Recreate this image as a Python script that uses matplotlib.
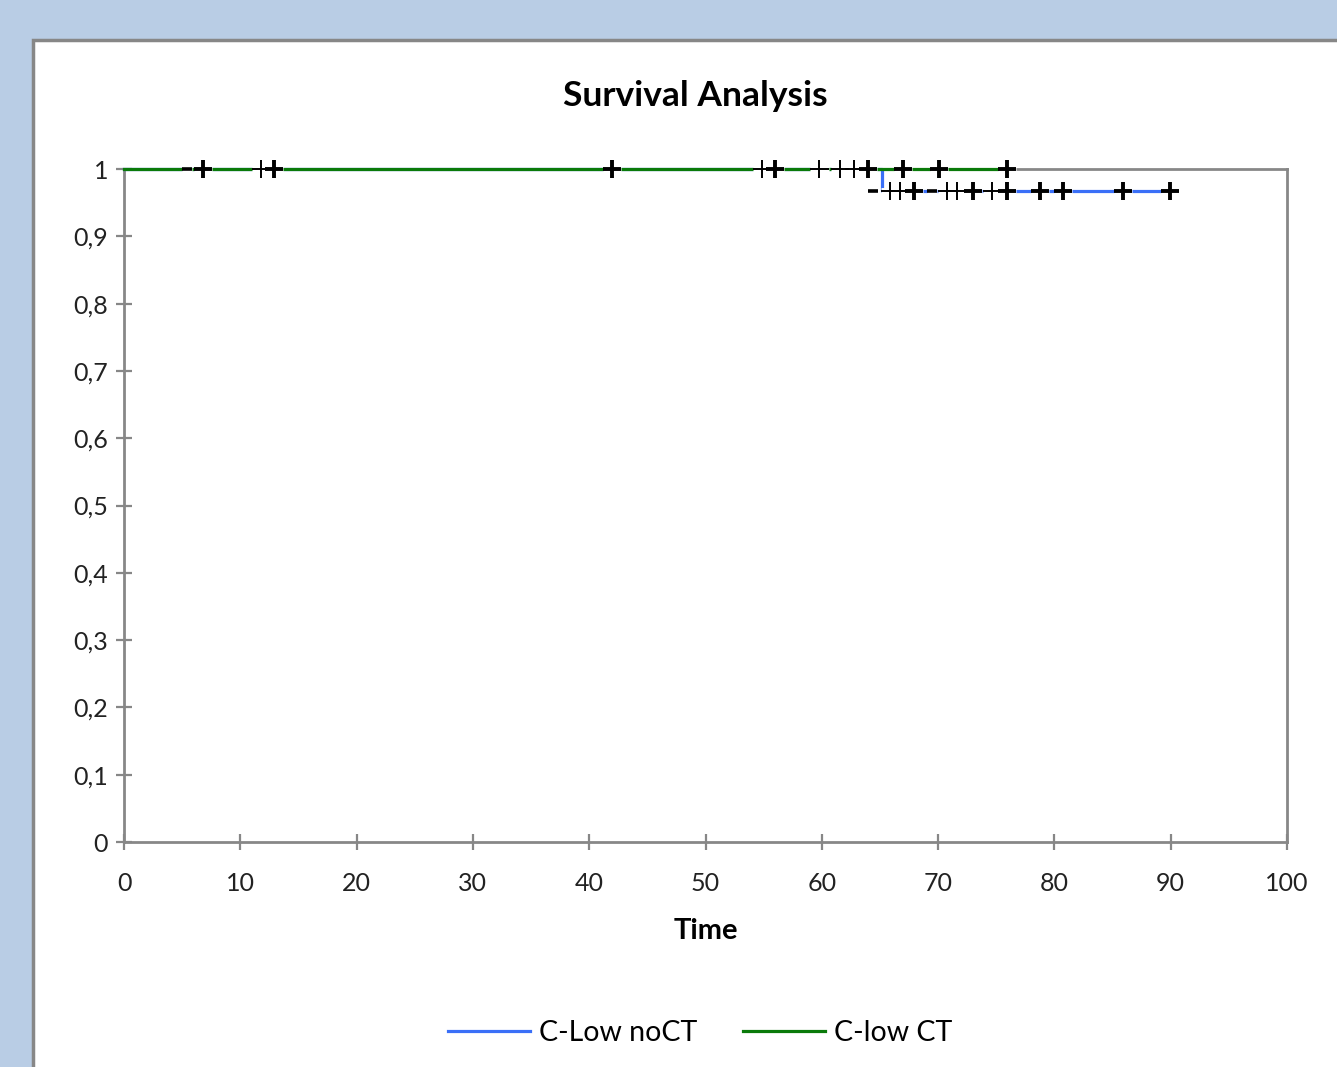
"""Kaplan-Meier style survival chart, C-Low noCT vs C-low CT."""
import matplotlib
matplotlib.use('Agg')
from matplotlib import pyplot as plt
from matplotlib import patheffects as pe
from matplotlib.patches import Rectangle

plt.rcParams['font.family'] = ['Lato', 'DejaVu Sans']

# step curves (time, survival)
noct_time = [0, 65.2, 65.2, 90]
noct_surv = [1, 1, 0.967, 0.967]
ct_time = [0, 76]
ct_surv = [1, 1]

# censored points, C-low CT (survival 1)
ct_cens_bold = [6.8, 12.9, 42.0, 56.0, 64.0, 67.0, 70.1, 75.9]
ct_cens_thin = [11.8, 54.9, 59.8, 61.6, 62.8]
ct_cens_dash = [5.4]

# censored points, C-Low noCT (survival 0.967)
noct_cens_bold = [67.9, 73.0, 75.9, 78.8, 80.7, 85.9, 89.9]
noct_cens_thin = [65.9, 66.7, 70.8, 71.6, 74.6]
noct_cens_dash = [64.4, 69.5]
noct_level = 0.967

xticks = list(range(0, 101, 10))
yticks = [i / 10 for i in range(11)]
ytick_labels = ['0'] + [f'0,{i}' for i in range(1, 10)] + ['1']

BLUE = '#3A6FF7'
GREEN = '#0A7A0A'
GREY = '#878787'


def main():
    fig = plt.figure(figsize=(13.37, 10.67), dpi=100)
    fig.patch.set_facecolor('#B9CDE5')
    fig.patches.append(Rectangle((33 / 1337, -0.05), 1.1, 1 - 40 / 1067 + 0.05,
                                 transform=fig.transFigure, facecolor='white',
                                 edgecolor=GREY, lw=2.5, zorder=-5))

    ax = fig.add_axes([124 / 1337, 1 - 842 / 1067, (1287 - 124) / 1337,
                       (842 - 169) / 1067])
    ax.set_zorder(2)
    ax.set_facecolor('white')

    ax.plot(noct_time, noct_surv, color=BLUE, lw=2.3, label='C-Low noCT',
            zorder=3, clip_on=False)
    ax.plot(ct_time, ct_surv, color=GREEN, lw=2.3, label='C-low CT',
            zorder=4, clip_on=False)

    halo = [pe.Stroke(linewidth=5, foreground='white'), pe.Normal()]
    for xs, lvl in ((ct_cens_bold, 1), (noct_cens_bold, noct_level)):
        ax.plot(xs, [lvl] * len(xs), ls='none', marker='+', ms=13, mew=2.8,
                color='black', zorder=6, clip_on=False, path_effects=halo)
    for xs, lvl in ((ct_cens_thin, 1), (noct_cens_thin, noct_level)):
        ax.plot(xs, [lvl] * len(xs), ls='none', marker='+', ms=13, mew=1.4,
                color='black', zorder=5, clip_on=False, path_effects=halo)
    for xs, lvl in ((ct_cens_dash, 1), (noct_cens_dash, noct_level)):
        ax.plot(xs, [lvl] * len(xs), ls='none', marker='_', ms=7, mew=2.6,
                color='black', zorder=5, clip_on=False, path_effects=halo)

    ax.set_xlim(0, 100)
    ax.set_ylim(0, 1)
    ax.set_xticks(xticks)
    ax.set_yticks(yticks)
    ax.set_yticklabels(ytick_labels)
    for sp in ax.spines.values():
        sp.set_color(GREY)
        sp.set_linewidth(2)
    ax.tick_params(direction='inout', length=11, width=1.6, color=GREY,
                   labelsize=18, labelcolor='#222222')
    ax.tick_params(axis='x', pad=16)
    ax.tick_params(axis='y', pad=6)

    ax.set_xlabel('Time', fontsize=21, fontweight='bold', labelpad=17)
    fig.text(695 / 1337, 1 - 96 / 1067, 'Survival Analysis', fontsize=25.5,
             fontweight='bold', ha='center', va='center')

    fig.legend(loc='center', bbox_to_anchor=(700 / 1337, 1 - 1033 / 1067),
               ncol=2, frameon=False, fontsize=20.5, handlelength=2.9,
               handletextpad=0.3, columnspacing=1.6)

    fig.savefig('out.png', dpi=100, facecolor=fig.get_facecolor())
    plt.close('all')


if __name__ == '__main__':
    main()
